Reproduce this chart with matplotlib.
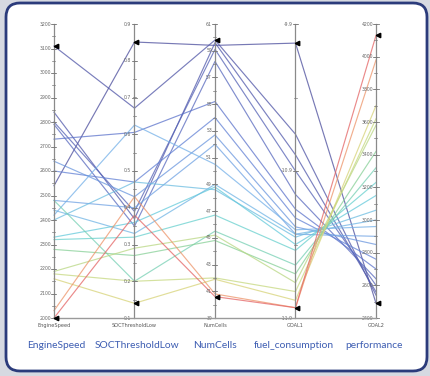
import numpy as np
import matplotlib
matplotlib.use("Agg")
import matplotlib.pyplot as plt
from matplotlib.patches import FancyBboxPatch
from matplotlib.colors import LinearSegmentedColormap, Normalize

# ---------------- data ----------------
dimensions = ["EngineSpeed", "SOCThresholdLow", "NumCells", "GOAL1", "GOAL2"]
display_names = ["EngineSpeed", "SOCThresholdLow", "NumCells", "fuel_consumption", "performance"]

engine_speed = [2540, 3110, 2840, 2800, 2790, 2730, 2600, 2640, 2480, 2420, 2440,
                2400, 2330, 2320, 2480, 2280, 2190, 2180, 2160, 2030, 2000]
soc_threshold_low = [0.851, 0.671, 0.37, 0.39, 0.35, 0.605, 0.47, 0.43, 0.40, 0.625, 0.33,
                     0.47, 0.36, 0.32, 0.20, 0.27, 0.29, 0.20, 0.14, 0.43, 0.38]
num_cells = [59.4, 59.8, 59.6, 59.1, 58.2, 55.2, 54.0, 52.7, 52.0, 50.5, 49.0,
             48.6, 48.8, 46.7, 45.5, 44.8, 45.2, 42.0, 41.9, 40.8, 40.6]
fuel_consumption = [-10.03, -10.65, -10.79, -10.90, -11.06, -11.16, -11.22, -11.28, -11.33, -11.30, -11.33,
                    -11.35, -11.40, -11.44, -11.54, -11.60, -11.66, -11.72, -11.78, -11.83, -11.83]
performance = [2490, 2540, 2560, 2600, 2640, 2700, 2760, 2850, 2900, 2960, 3000,
               3060, 3150, 3230, 3320, 3420, 3580, 3620, 3700, 3980, 4130]

axis_min = [2000, 0.1, 39, -11.9, 2400]
axis_max = [3200, 0.9, 61, -9.9, 4200]
major_step = [100, 0.1, 2, 1.0, 200]
minor_step = [50, 0.05, 1, 0.5, 100]
label_fmt = ["{:.0f}", "{:.1f}", "{:.0f}", "{:.1f}", "{:.0f}"]

columns = [engine_speed, soc_threshold_low, num_cells, fuel_consumption, performance]

# ---------------- figure ----------------
W, H = 431, 376
fig = plt.figure(figsize=(W / 100, H / 100), dpi=100)
fig.patch.set_facecolor("#d6d9e1")

# frame layer in pixel coordinates
bg = fig.add_axes([0, 0, 1, 1])
bg.set_xlim(0, W)
bg.set_ylim(H, 0)
bg.axis("off")
frame = FancyBboxPatch((6, 3), 421, 368, boxstyle="round,pad=0,rounding_size=14",
                       facecolor="white", edgecolor="#2b3b7b", linewidth=2.0, zorder=1)
bg.add_patch(frame)

# big labels under the chart
label_x = [56, 137, 215, 294, 374]
for name, lx in zip(display_names, label_x):
    bg.text(lx, 345, name, ha="center", va="center", fontsize=7.4,
            color="#3d5db2", family="Lato", zorder=3)

# parallel coordinates axes
left_px, right_px, top_px, bot_px = 54, 376, 24, 318
ax = fig.add_axes([left_px / W, 1 - bot_px / H, (right_px - left_px) / W, (bot_px - top_px) / H])
ax.set_xlim(0, 4)
ax.set_ylim(0, 1)
ax.axis("off")
ax.patch.set_alpha(0)

cmap = LinearSegmentedColormap.from_list(
    "pc", ["#4a4c9c", "#5f78d2", "#74b0e8", "#62d0d8", "#88d096", "#d2da7a", "#f2b06c", "#e46464"])
norm = Normalize(min(performance), max(performance))

def normed(i, v):
    return (np.asarray(v, dtype=float) - axis_min[i]) / (axis_max[i] - axis_min[i])

data = np.array([normed(i, c) for i, c in enumerate(columns)])  # shape (5, n)
xs = np.arange(len(dimensions))
order = np.argsort(performance)
for j in order:
    ax.plot(xs, data[:, j], color=cmap(norm(performance[j])), lw=0.85, alpha=0.75,
            zorder=2, clip_on=False)

# axis lines, ticks, labels
tick_col = "#7a7a7a"
dx = 4 / (right_px - left_px)  # data units per pixel horizontally
for i in range(len(dimensions)):
    ax.plot([i, i], [0, 1], color="#8a8a8a", lw=0.9, zorder=3, clip_on=False)
    n_minor = int(round((axis_max[i] - axis_min[i]) / minor_step[i]))
    for k in range(n_minor + 1):
        v = axis_min[i] + k * minor_step[i]
        y = normed(i, v)
        ax.plot([i - 1.5 * dx, i + 1.5 * dx], [y, y], color=tick_col, lw=0.5, zorder=3, clip_on=False)
    n_major = int(round((axis_max[i] - axis_min[i]) / major_step[i]))
    for k in range(n_major + 1):
        v = axis_max[i] - k * major_step[i]
        y = normed(i, v)
        ax.plot([i - 2.5 * dx, i + 2.5 * dx], [y, y], color=tick_col, lw=0.6, zorder=3, clip_on=False)
        ax.text(i - 3 * dx, y, label_fmt[i].format(v), ha="right", va="center",
                fontsize=3.3, color="#666666", zorder=3)
    ax.text(i, -0.018, dimensions[i], ha="center", va="top", fontsize=3.6, color="#555555")
    # range markers at data min / max
    col = np.asarray(columns[i], dtype=float)
    for v in (col.min(), col.max()):
        ax.plot(i + 2 * dx, normed(i, v), marker="<", ms=3.2, color="black", zorder=5, clip_on=False)

# baseline
ax.plot([0, 4], [0, 0], color="#9a9a9a", lw=1.0, zorder=3, clip_on=False)

fig.savefig("out.png", dpi=100, facecolor=fig.get_facecolor())
